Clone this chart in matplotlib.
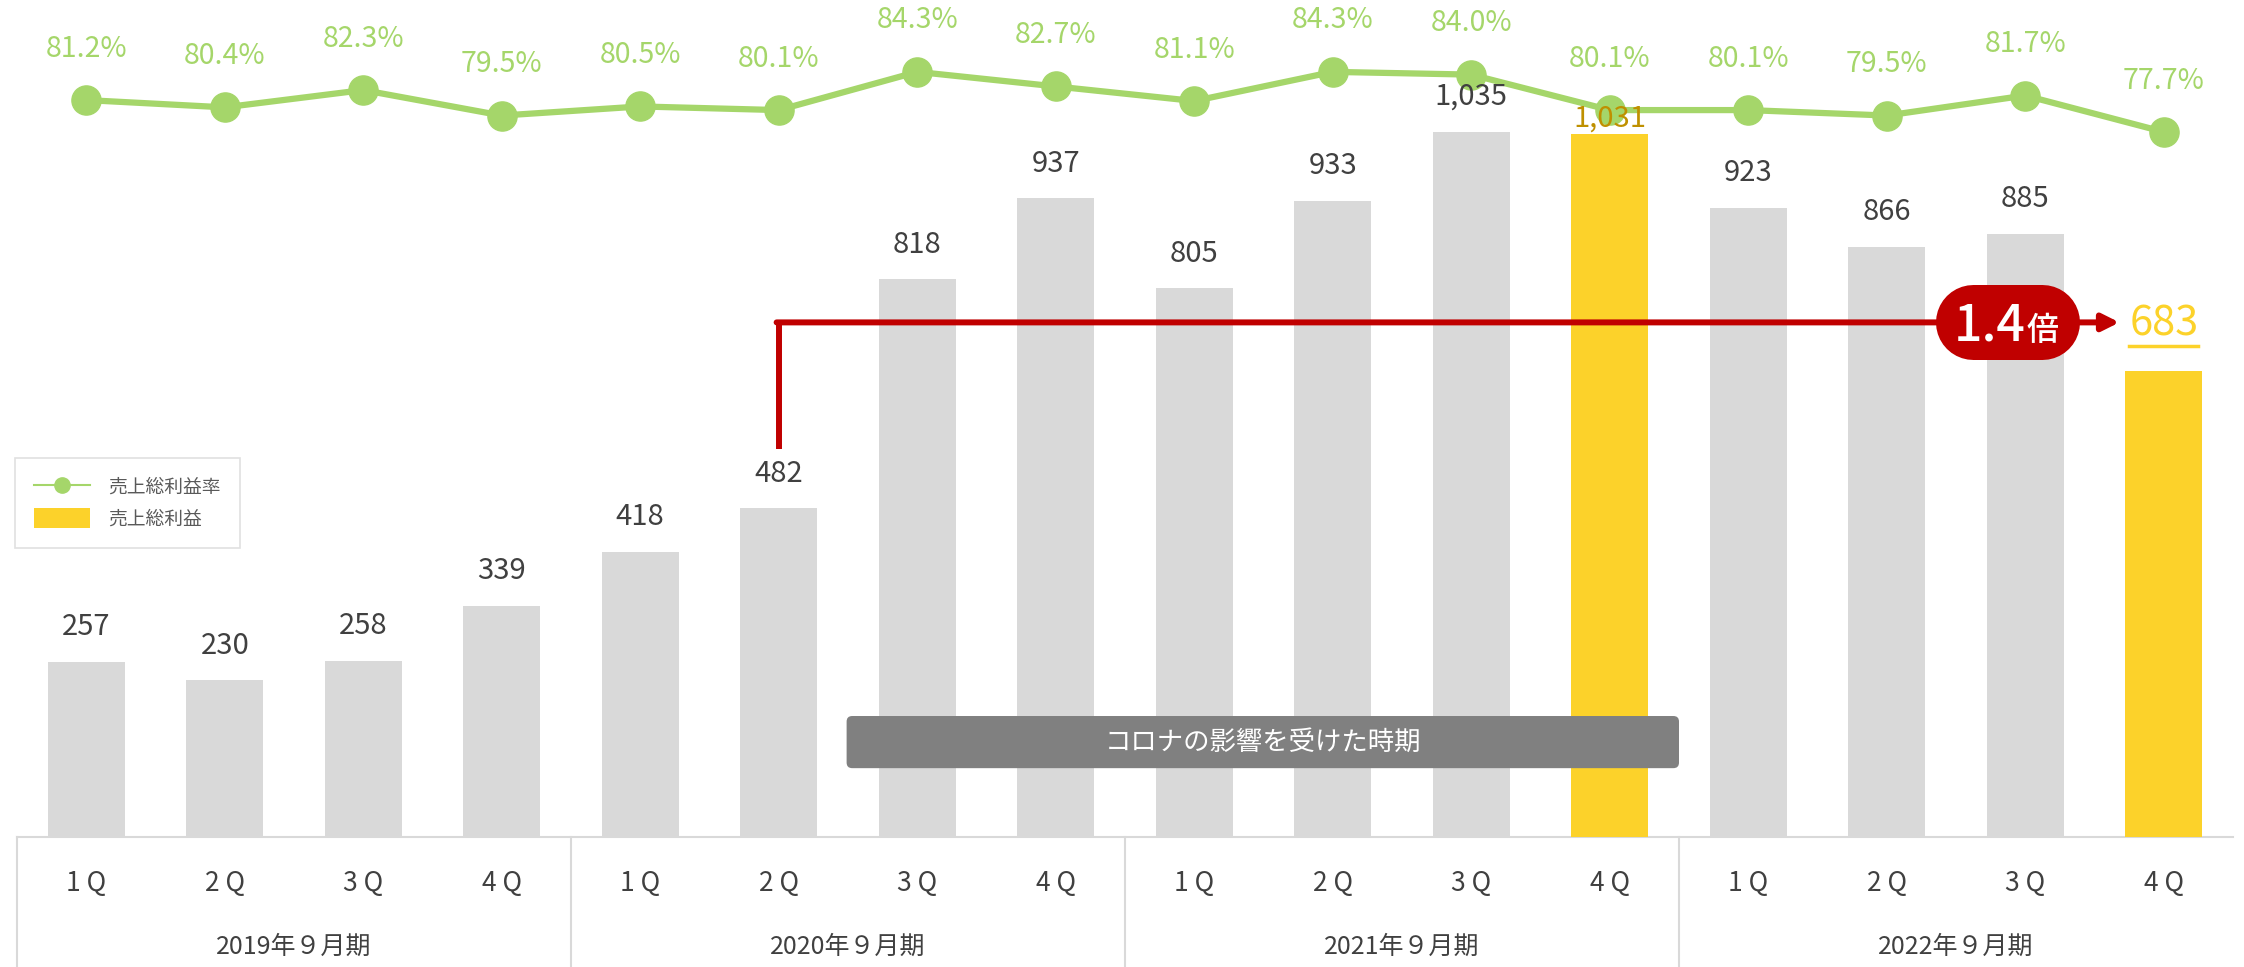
import matplotlib
matplotlib.use('Agg')
import matplotlib.pyplot as plt
from matplotlib.lines import Line2D
from matplotlib.patches import Patch, FancyBboxPatch

plt.rcParams['font.family'] = ['Noto Sans CJK JP', 'DejaVu Sans']

# data
gross_profit = [257, 230, 258, 339, 418, 482, 818, 937, 805, 933, 1035, 1031, 923, 866, 885, 683]
margin = [81.2, 80.4, 82.3, 79.5, 80.5, 80.1, 84.3, 82.7, 81.1, 84.3, 84.0, 80.1, 80.1, 79.5, 81.7, 77.7]
quarters = ['1 Q', '2 Q', '3 Q', '4 Q'] * 4
years = ['2019年９月期', '2020年９月期', '2021年９月期', '2022年９月期']
highlight = [11, 15]
base_idx, last_idx = 5, 15
ratio_label = '1.4'

GRAY = '#d9d9d9'
YELLOW = '#fcd22a'
GREEN = '#a5d66a'
RED = '#c00000'
TXT = '#404040'

W, H = 2244, 967
fig = plt.figure(figsize=(W / 100, H / 100), dpi=100)
ax = fig.add_axes([17 / W, 130 / H, 2216 / W, 837 / H])
ax2 = ax.twinx()

x = list(range(len(gross_profit)))
colors = [YELLOW if i in highlight else GRAY for i in x]
ax.bar(x, gross_profit, width=0.555, color=colors, zorder=2)
ax.set_xlim(-0.5, len(x) - 0.5)
ax.set_ylim(0, 1228)
ax2.set_ylim(0.2, 92.2)

ax2.plot(x, margin, color=GREEN, lw=4.5, marker='o', ms=21, zorder=3)
for i, m in zip(x, margin):
    ax2.annotate(f'{m:.1f}%', (i, m), xytext=(0, 37), textcoords='offset points',
                 ha='center', va='center', fontsize=20.5, color=GREEN)

# bar labels (drawn on ax2 so they sit over the line)
for i, v in zip(x, gross_profit):
    if i == last_idx:
        continue
    off, col = 25, TXT
    if i == 11:
        off, col = 11, '#bf9000'
    ax2.annotate(f'{v:,}', (i, v), xycoords=ax.transData, xytext=(0, off),
                 textcoords='offset points', ha='center', va='center',
                 fontsize=21, color=col, zorder=5)

for a in (ax, ax2):
    for s in a.spines.values():
        s.set_visible(False)
    a.set_xticks([])
    a.set_yticks([])

# comparison arrow from 2Q 2020 to 4Q 2022
arrow_y = 755
ax.plot([base_idx, base_idx], [569, arrow_y], color=RED, lw=4.3, zorder=4,
        solid_capstyle='butt')
ax.annotate('', xy=(14.68, arrow_y), xytext=(base_idx - 0.0155, arrow_y),
            arrowprops=dict(arrowstyle='-|>,head_length=1.0,head_width=0.5',
                            color=RED, lw=4.3, shrinkA=0, shrinkB=0), zorder=4)
ax.plot([13.62, 14.12], [arrow_y, arrow_y], color=RED, lw=54,
        solid_capstyle='round', zorder=5)
ax.text(14.0, 729, ratio_label, ha='right', va='baseline', fontsize=36,
        color='white', fontweight='medium', zorder=6)
ax.text(14.01, 729, '倍', ha='left', va='baseline', fontsize=23,
        color='white', fontweight='medium', zorder=6)

t683 = ax.text(last_idx, 736, f'{gross_profit[last_idx]:,}', ha='center',
               va='baseline', fontsize=30, color=YELLOW, zorder=6)
fig.canvas.draw()
bb = t683.get_window_extent()
inv = ax.transData.inverted()
(ux0, uy), (ux1, _) = inv.transform([(bb.x0, bb.y0 - 2), (bb.x1, bb.y0)])
ax.plot([ux0, ux1], [uy, uy], color=YELLOW, lw=2.5, zorder=6)

# corona period box
bx, by, bw, bh = 5.49, 101, 6.01, 76.5
box = FancyBboxPatch((bx, by), bw, bh,
                     boxstyle='round,pad=0,rounding_size=0.04',
                     mutation_aspect=204, facecolor='#808080',
                     edgecolor='none', zorder=4)
ax.add_patch(box)
ax.text(bx + bw / 2, by + bh / 2, 'コロナの影響を受けた時期', ha='center',
        va='center', fontsize=19, color='white', zorder=5)

# legend
handles = [Line2D([], [], color=GREEN, lw=1.5, marker='o', ms=11),
           Patch(facecolor=YELLOW, edgecolor='none')]
leg = ax.legend(handles, ['売上総利益率', '売上総利益'], loc='upper left',
                bbox_to_anchor=(-0.001, 0.453), fontsize=13.5, frameon=True,
                fancybox=False, edgecolor=GRAY, handlelength=3.0,
                handleheight=1.25, handletextpad=1.0, labelspacing=0.55,
                borderpad=1.0, borderaxespad=0, labelcolor='#595959')
leg.get_frame().set_linewidth(1.2)

# category table below the plot
tr = ax.get_xaxis_transform()
tbl_bottom = -130 / 837
ax.plot([-0.5, len(x) - 0.5], [0, 0], transform=tr, color=GRAY, lw=1.5,
        clip_on=False, zorder=1)
for g in range(len(years)):
    xs = g * 4 - 0.5
    ax.plot([xs, xs], [0, tbl_bottom], transform=tr, color=GRAY, lw=1.5,
            clip_on=False)
    ax.text(g * 4 + 1.5, -110 / 837, years[g], transform=tr, ha='center',
            va='center', fontsize=18, color=TXT)
for i, q in zip(x, quarters):
    ax.text(i, -46 / 837, q, transform=tr, ha='center', va='center',
            fontsize=19, color=TXT)

fig.savefig('out.png', dpi=100)
